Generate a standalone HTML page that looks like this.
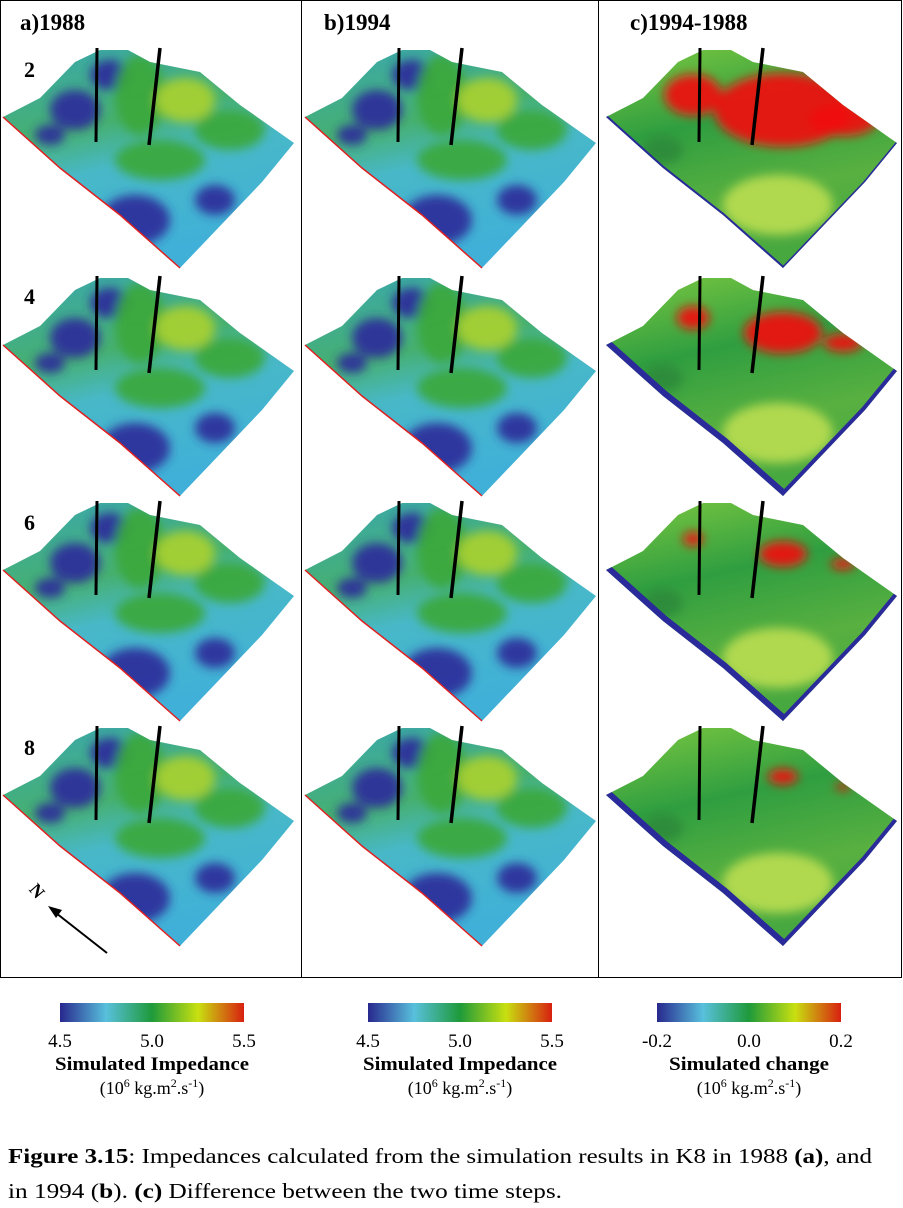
<!DOCTYPE html>
<html><head><meta charset="utf-8">
<style>
body{margin:0;background:#fff;width:903px;height:1208px;overflow:hidden;font-family:"Liberation Serif",serif;}
svg{position:absolute;left:0;top:0}
</style></head>
<body>
<svg id="fig" width="903" height="1208" viewBox="0 0 903 1208">
<defs>
<filter id="blur" x="-20%" y="-20%" width="140%" height="140%"><feGaussianBlur stdDeviation="5"/></filter>
<linearGradient id="cbar" x1="0" x2="1" y1="0" y2="0">
<stop offset="0" stop-color="#28288e"/><stop offset="0.25" stop-color="#58c0dc"/><stop offset="0.5" stop-color="#1e9a3a"/><stop offset="0.75" stop-color="#c8e010"/><stop offset="1" stop-color="#d82010"/>
</linearGradient>
<linearGradient id="gAB" x1="0" y1="0" x2="0.3" y2="1">
<stop offset="0" stop-color="#3aa8b0"/><stop offset="0.4" stop-color="#46b070"/><stop offset="0.6" stop-color="#48b8c8"/><stop offset="1" stop-color="#40b0d8"/>
</linearGradient>
<linearGradient id="gC" x1="0" y1="0" x2="0.3" y2="1">
<stop offset="0" stop-color="#7cc840"/><stop offset="0.4" stop-color="#2f9e40"/><stop offset="0.75" stop-color="#58b040"/><stop offset="1" stop-color="#48a840"/>
</linearGradient>
</defs>
<g id="panels"></g>
<g fill="none" stroke="#000" stroke-width="1">
<rect x="0.5" y="0.5" width="301" height="977"/>
<rect x="301.5" y="0.5" width="297" height="977"/>
<rect x="598.5" y="0.5" width="303" height="977"/>
</g>
<text x="20" y="30" font-size="23" font-weight="bold">a)1988</text>
<text x="324" y="30" font-size="23" font-weight="bold">b)1994</text>
<text x="630" y="30" font-size="23" font-weight="bold">c)1994-1988</text>
<text x="24" y="77" font-size="22" font-weight="bold">2</text>
<text x="24" y="304" font-size="22" font-weight="bold">4</text>
<text x="24" y="530" font-size="22" font-weight="bold">6</text>
<text x="24" y="755" font-size="22" font-weight="bold">8</text>
<g>
<line x1="107" y1="953" x2="56" y2="913" stroke="#000" stroke-width="2"/>
<polygon points="48,906 62,910 56,918" fill="#000"/>
<text x="30" y="898" font-size="18" font-weight="bold" transform="rotate(50 38 892)">N</text>
</g>
<g id="bars"></g>
<text x="8" y="1163" font-size="21" textLength="864" lengthAdjust="spacingAndGlyphs"><tspan font-weight="bold">Figure 3.15</tspan>: Impedances calculated from the simulation results in K8 in 1988 <tspan font-weight="bold">(a)</tspan>, and</text>
<text x="8" y="1198" font-size="21" textLength="554" lengthAdjust="spacingAndGlyphs">in 1994 (<tspan font-weight="bold">b</tspan>). <tspan font-weight="bold">(c)</tspan> Difference between the two time steps.</text>
</svg>
<script>
const NS="http://www.w3.org/2000/svg";
const panelX=[0,302,603];
const rowY=[0,228,453,678];
const barTicks=[["4.5","5.0","5.5"],["4.5","5.0","5.5"],["-0.2","0.0","0.2"]];
const barTitles=["Simulated Impedance","Simulated Impedance","Simulated change"];
const shape="3,117 40,98 75,62 100,50 128,50 150,62 200,72 240,105 294,143 262,182 180,268 120,215 60,168";
const blobsAB=[[75,110,25,20,"#2a2a9a"],[110,75,20,15,"#2a2a9a"],[140,95,25,40,"#3aa83a"],[185,100,30,22,"#a8d030"],[230,130,35,20,"#3aa83a"],[160,160,45,20,"#3aa83a"],[135,220,35,25,"#2a2a9a"],[215,200,20,15,"#2a2a9a"],[50,135,15,10,"#2a2a9a"]];
const blobsC=[[180,110,60,32,"#f01010"],[240,120,30,14,"#f01010"],[90,95,25,18,"#f01010"],[175,205,55,30,"#b8dc50"],[60,150,20,14,"#2a8a3a"]];
const redScale=[1.15,0.65,0.4,0.25];
const g=document.getElementById('panels');
function mk(t,a,p){const e=document.createElementNS(NS,t);for(const k in a)e.setAttribute(k,a[k]);(p||g).appendChild(e);return e;}
panelX.forEach((px,pi)=>{rowY.forEach((ry,ri)=>{
 const grp=mk('g',{transform:`translate(${px},${ry})`});
 
 
 const cid='c'+pi+'_'+ri;
 const cp=mk('clipPath',{id:cid},grp);mk('polygon',{points:shape},cp);
 mk('polygon',{points:shape,fill:pi<2?'url(#gAB)':'url(#gC)'},grp);
 const inner=mk('g',{'clip-path':`url(#${cid})`},grp);
 const bl=mk('g',{filter:'url(#blur)'},inner);
 (pi<2?blobsAB:blobsC).forEach(b=>{
   let sc=1; if(pi==2&&b[4]=="#f01010") sc=redScale[ri];
   if(sc<0.3&&b[4]=="#f01010"&&b[0]==90) return;
   mk('ellipse',{cx:b[0],cy:b[1]-(1-Math.min(sc,1))*15,rx:b[2]*sc,ry:b[3]*sc,fill:b[4],opacity:0.92},bl);
 });
 if(pi==2){mk('polyline',{points:"3,117 60,168 120,215 180,268",fill:'none',stroke:'#2a2a9a','stroke-width':ri==0?4:12},inner);
  mk('polyline',{points:"294,143 262,182 180,268",fill:'none',stroke:'#2a2a9a','stroke-width':ri==0?3:8},inner);}
 else mk('polyline',{points:"3,117 60,168 120,215 180,268",fill:'none',stroke:'#e02020','stroke-width':1.5},grp);
 mk('line',{x1:97,y1:48,x2:96,y2:142,stroke:'#000','stroke-width':3},grp);
 mk('line',{x1:160,y1:48,x2:149,y2:145,stroke:'#000','stroke-width':3.5},grp);
});});
const bg=document.getElementById('bars');
const barX=[60,368,657];
barX.forEach((bx,i)=>{
 const b=mk('g',{},bg);
 
 
 mk('rect',{x:bx,y:1003,width:184,height:19,fill:'url(#cbar)'},b);
 barTicks[i].forEach((t,j)=>{const e=mk('text',{x:bx+j*92,y:1047,'font-size':19,'text-anchor':'middle'},b);e.textContent=t;});
 const tt=mk('text',{x:bx+92,y:1070,'font-size':19,'font-weight':'bold','text-anchor':'middle',textLength:i<2?194:160,lengthAdjust:'spacingAndGlyphs'},b);tt.textContent=barTitles[i];
 const u=mk('text',{x:bx+92,y:1094,'font-size':18,'text-anchor':'middle'},b);
 u.innerHTML='(10<tspan dy="-7" font-size="12">6</tspan><tspan dy="7"> kg.m</tspan><tspan dy="-7" font-size="12">2</tspan><tspan dy="7">.s</tspan><tspan dy="-7" font-size="12">-1</tspan><tspan dy="7">)</tspan>';
});
</script>
</body></html>
